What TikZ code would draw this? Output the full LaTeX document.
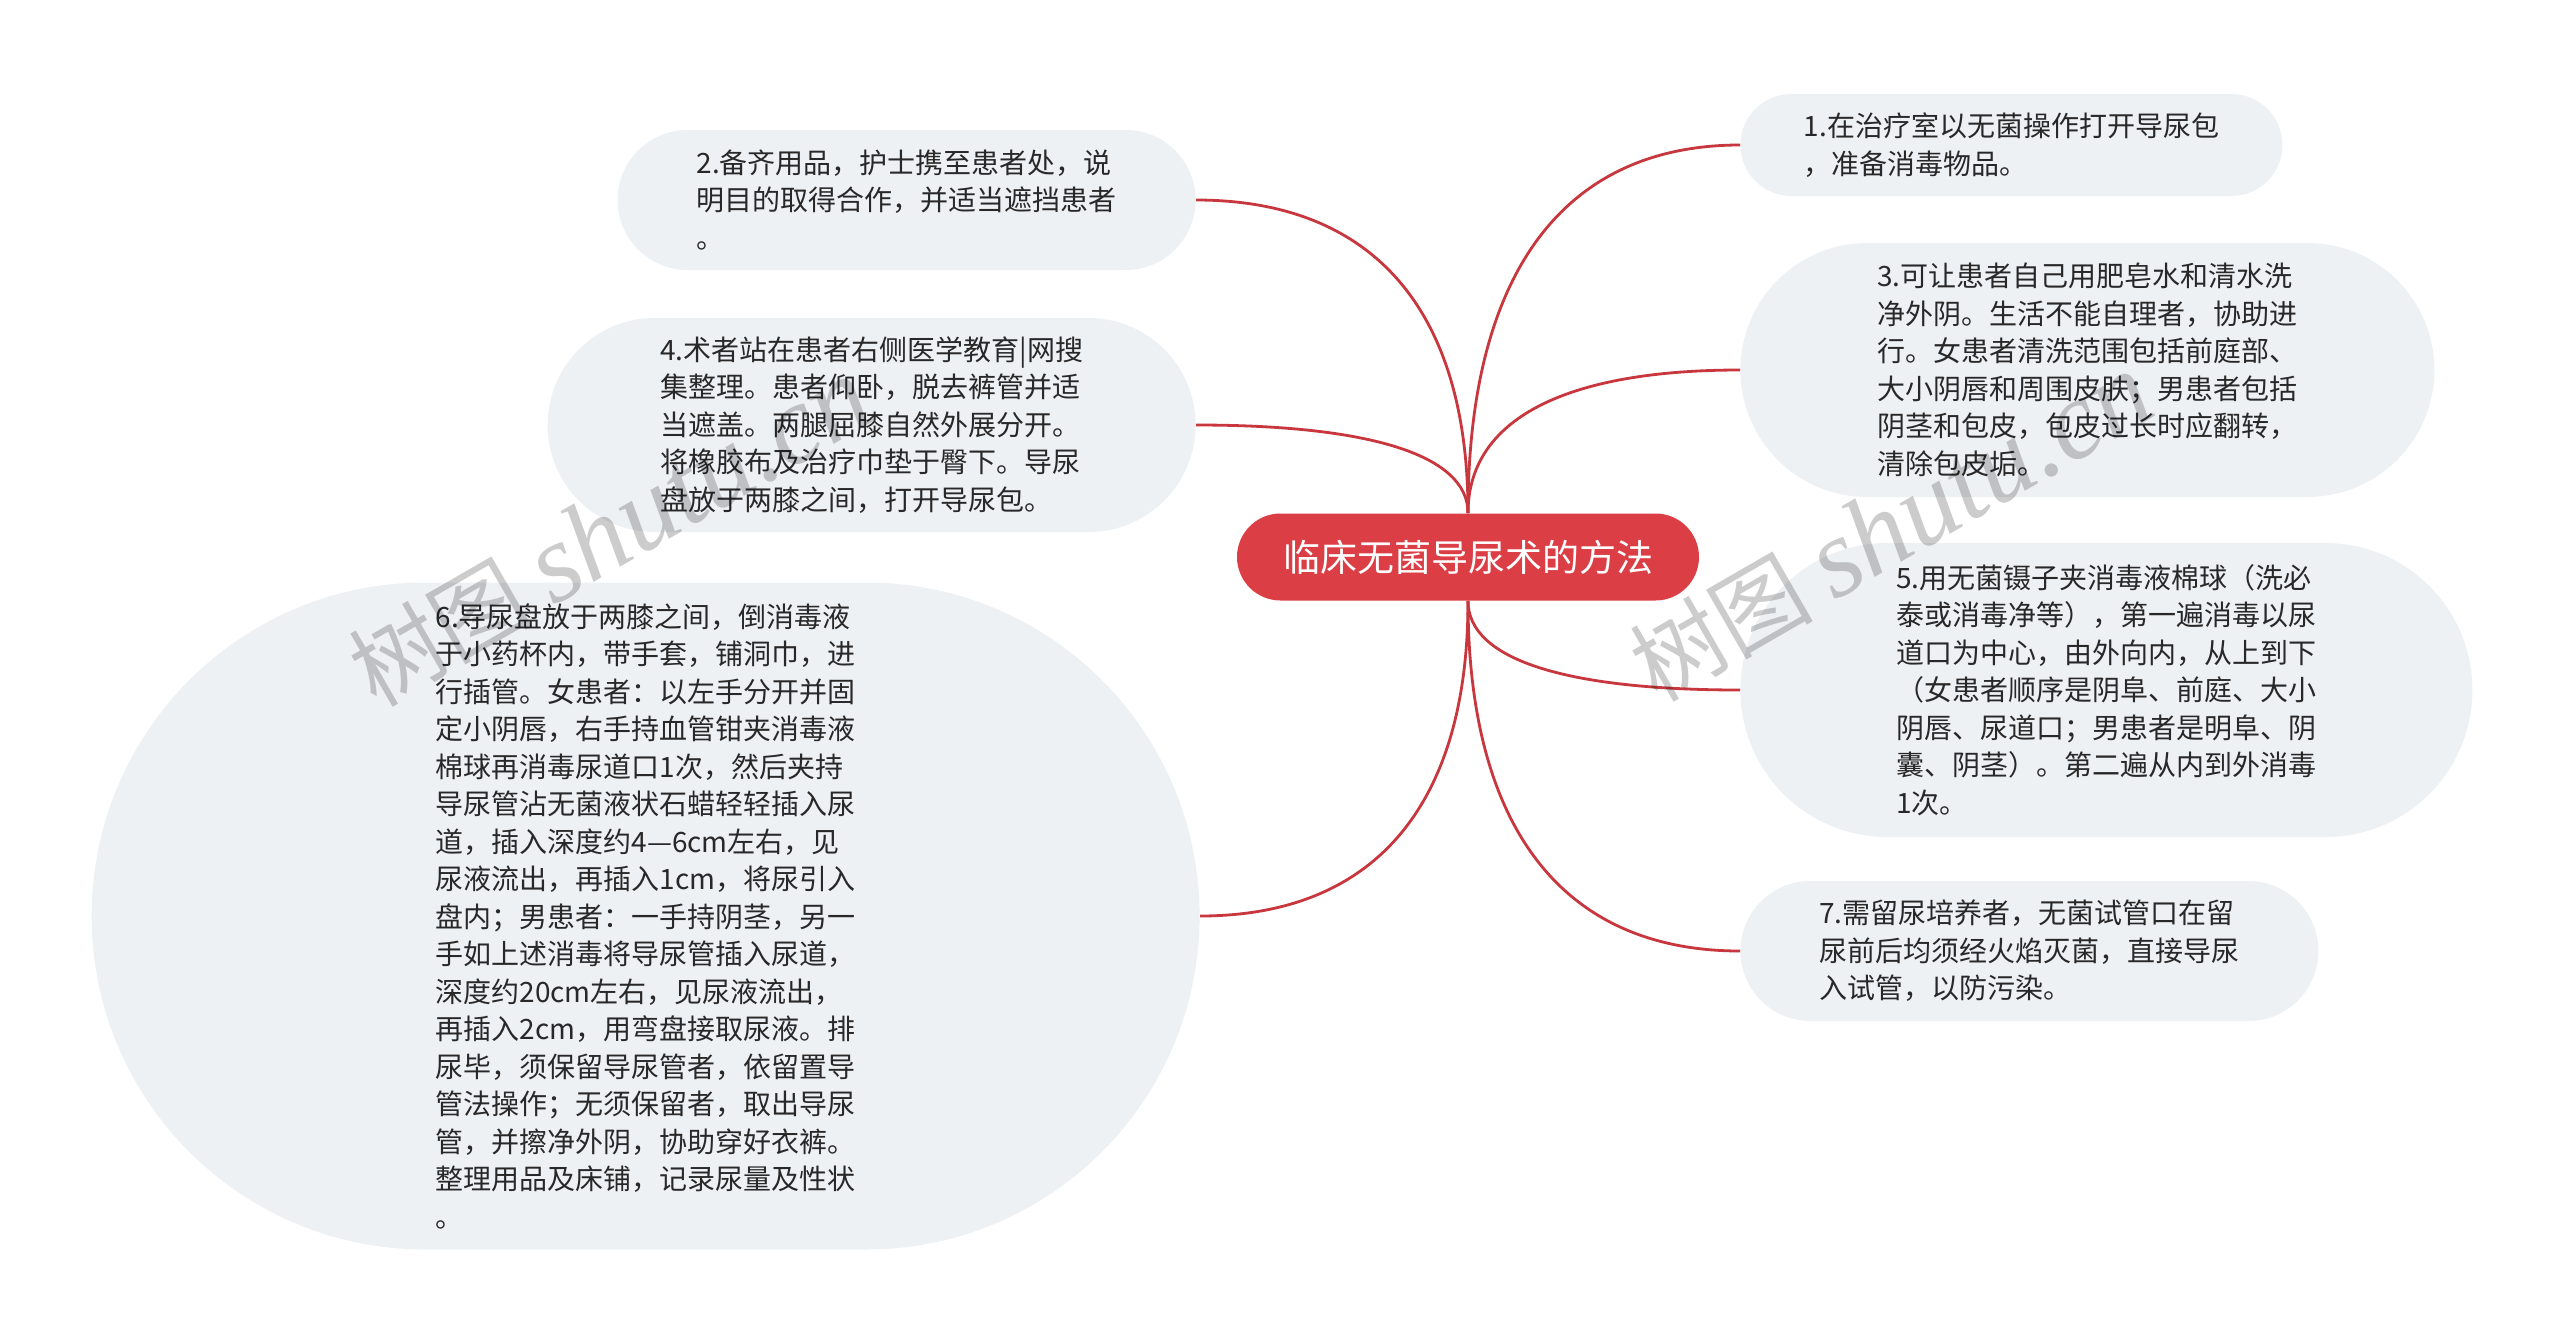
\documentclass[tikz,border=0pt]{standalone}
\usepackage{fontspec}
\setmainfont{Noto Sans CJK SC}
\newfontfamily\wmlatin{Liberation Serif}
\usetikzlibrary{shapes.misc, calc, positioning}
\definecolor{rootred}{RGB}{220,62,70}
\definecolor{linered}{RGB}{200,55,62}
\definecolor{boxgray}{RGB}{238,241,244}
\definecolor{txt}{RGB}{40,40,40}
\tikzstyle{root} = [rounded rectangle, fill=rootred, text=white, inner sep=0pt, minimum width=231pt, minimum height=43.5pt, font=\fontsize{18.5}{22}\selectfont]
\tikzstyle{idea} = [rounded rectangle, fill=boxgray, text=txt, inner sep=0pt, align=left, font=\fontsize{14}{18.75}\selectfont]
\tikzstyle{branch} = [draw=linered, line width=1.4pt]
\tikzstyle{wmtext} = [text=black, opacity=0.2, rotate=30, font=\fontsize{46}{46}\selectfont]

\begin{document}
\begin{tikzpicture}[x=0.5pt, y=-0.5pt]
\useasboundingbox[fill=white] (0,0) rectangle (2560,1339);
\node (m) [root] at (1468,557) {临床无菌导尿术的方法};
\node (p1) [idea, anchor=west, minimum width=271pt, minimum height=51pt] at (1740,145) {1.在治疗室以无菌操作打开导尿包\\，准备消毒物品。};
\node (p2) [idea, anchor=east, minimum width=289pt, minimum height=70pt] at (1196,200) {2.备齐用品，护士携至患者处，说\\明目的取得合作，并适当遮挡患者\\。};
\node (p3) [idea, anchor=west, minimum width=347pt, minimum height=127pt] at (1740,370) {3.可让患者自己用肥皂水和清水洗\\净外阴。生活不能自理者，协助进\\行。女患者清洗范围包括前庭部、\\大小阴唇和周围皮肤；男患者包括\\阴茎和包皮，包皮过长时应翻转，\\清除包皮垢。};
\node (p4) [idea, anchor=east, minimum width=324pt, minimum height=107pt] at (1196,425) {4.术者站在患者右侧医学教育|网搜\\集整理。患者仰卧，脱去裤管并适\\当遮盖。两腿屈膝自然外展分开。\\将橡胶布及治疗巾垫于臀下。导尿\\盘放于两膝之间，打开导尿包。};
\node (p5) [idea, anchor=west, minimum width=366pt, minimum height=147pt] at (1740,690) {5.用无菌镊子夹消毒液棉球（洗必\\泰或消毒净等），第一遍消毒以尿\\道口为中心，由外向内，从上到下\\（女患者顺序是阴阜、前庭、大小\\阴唇、尿道口；男患者是明阜、阴\\囊、阴茎）。第二遍从内到外消毒\\1次。};
\node (p6) [idea, anchor=east, minimum width=554pt, minimum height=333.5pt] at (1200,916) {6.导尿盘放于两膝之间，倒消毒液\\于小药杯内，带手套，铺洞巾，进\\行插管。女患者：以左手分开并固\\定小阴唇，右手持血管钳夹消毒液\\棉球再消毒尿道口1次，然后夹持\\导尿管沾无菌液状石蜡轻轻插入尿\\道，插入深度约4—6cm左右，见\\尿液流出，再插入1cm，将尿引入\\盘内；男患者：一手持阴茎，另一\\手如上述消毒将导尿管插入尿道，\\深度约20cm左右，见尿液流出，\\再插入2cm，用弯盘接取尿液。排\\尿毕，须保留导尿管者，依留置导\\管法操作；无须保留者，取出导尿\\管，并擦净外阴，协助穿好衣裤。\\整理用品及床铺，记录尿量及性状\\。};
\node (p7) [idea, anchor=west, minimum width=289pt, minimum height=70pt] at (1740,951) {7.需留尿培养者，无菌试管口在留\\尿前后均须经火焰灭菌，直接导尿\\入试管，以防污染。};
% branches
\draw[branch] (m.north) .. controls ($(m.north)!0.65!(m.north|-p1.west)$) and ($(p1.west)!0.65!(m.north|-p1.west)$) .. (p1.west);
\draw[branch] (m.north) .. controls ($(m.north)!0.65!(m.north|-p2.east)$) and ($(p2.east)!0.65!(m.north|-p2.east)$) .. (p2.east);
\draw[branch] (m.north) .. controls ($(m.north)!0.65!(m.north|-p3.west)$) and ($(p3.west)!0.65!(m.north|-p3.west)$) .. (p3.west);
\draw[branch] (m.north) .. controls ($(m.north)!0.65!(m.north|-p4.east)$) and ($(p4.east)!0.65!(m.north|-p4.east)$) .. (p4.east);
\draw[branch] (m.south) .. controls ($(m.south)!0.65!(m.south|-p5.west)$) and ($(p5.west)!0.65!(m.south|-p5.west)$) .. (p5.west);
\draw[branch] (m.south) .. controls ($(m.south)!0.65!(m.south|-p6.east)$) and ($(p6.east)!0.65!(m.south|-p6.east)$) .. (p6.east);
\draw[branch] (m.south) .. controls ($(m.south)!0.65!(m.south|-p7.west)$) and ($(p7.west)!0.65!(m.south|-p7.west)$) .. (p7.west);
% watermarks
\node (w1) [wmtext] at (610,533) {树图 {\wmlatin\itshape\fontsize{56}{56}\selectfont shutu.cn}};
\node (w2) [wmtext] at (1891,528) {树图 {\wmlatin\itshape\fontsize{56}{56}\selectfont shutu.cn}};
\end{tikzpicture}
\end{document}
